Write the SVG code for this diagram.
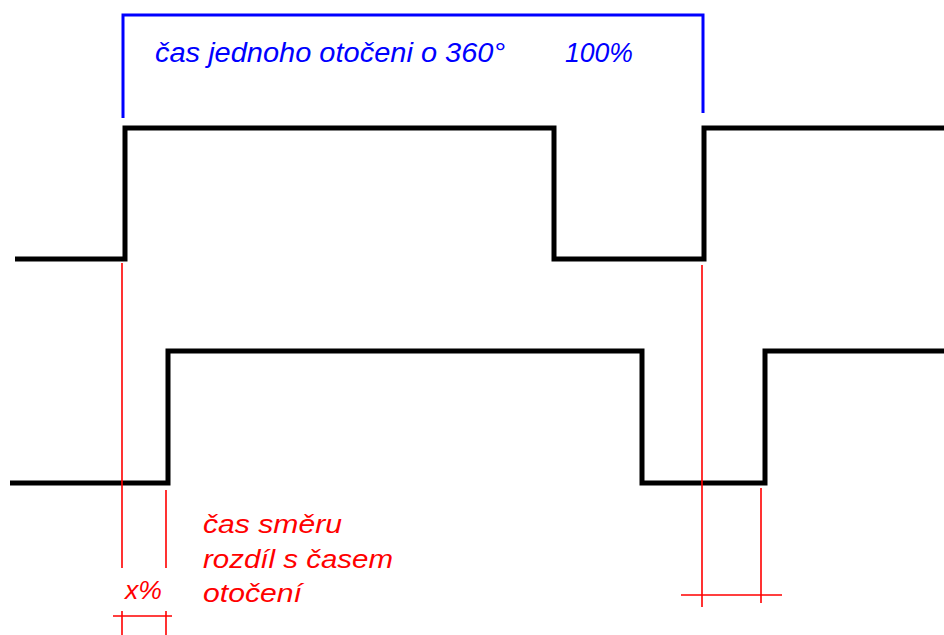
<svg xmlns="http://www.w3.org/2000/svg" width="944" height="635" viewBox="0 0 944 635">
  <style>
    .wave { fill: none; stroke: #000; stroke-width: 5; stroke-linejoin: miter; stroke-linecap: butt; }
    .blue { fill: none; stroke: #0000ff; stroke-width: 3; }
    .red { fill: none; stroke: #ff0000; stroke-width: 1.6; }
    .tb { font-family: "Liberation Sans", Arial, sans-serif; font-style: italic; font-size: 27px; fill: #0000ff; }
    .tr { font-family: "Liberation Sans", Arial, sans-serif; font-style: italic; font-size: 25px; fill: #ff0000; }
  </style>
  <rect width="944" height="635" fill="#fff"/>
  <g id="signal-a">
    <path class="wave" d="M15,259 H125 V128 H554 V259 H704 V128 H944"/>
  </g>
  <g id="signal-b">
    <path class="wave" d="M10,483 H168 V351 H642 V483 H765 V351 H944"/>
  </g>
  <g id="period-bracket">
    <path class="blue" d="M123,118 V15 H703 V113"/>
    <text class="tb" x="155" y="62" textLength="350" lengthAdjust="spacingAndGlyphs">čas jednoho otočeni o 360°</text>
    <text class="tb" x="565" y="62" textLength="68" lengthAdjust="spacingAndGlyphs">100%</text>
  </g>
  <g id="connectors">
    <path class="red" d="M122,263 V568 M166,490 V568 M122,611 V635 M166,611 V635 M113,616 H172"/>
    <path class="red" d="M702,265 V607 M761,488 V603 M681,595 H782"/>
  </g>
  <g id="labels">
    <text class="tr" x="125" y="599" textLength="37" lengthAdjust="spacingAndGlyphs">x%</text>
    <text class="tr" x="203" y="533" textLength="139" lengthAdjust="spacingAndGlyphs">čas směru</text>
    <text class="tr" x="203" y="568" textLength="190" lengthAdjust="spacingAndGlyphs">rozdíl s časem</text>
    <text class="tr" x="203" y="602" textLength="99" lengthAdjust="spacingAndGlyphs">otočení</text>
  </g>
</svg>
